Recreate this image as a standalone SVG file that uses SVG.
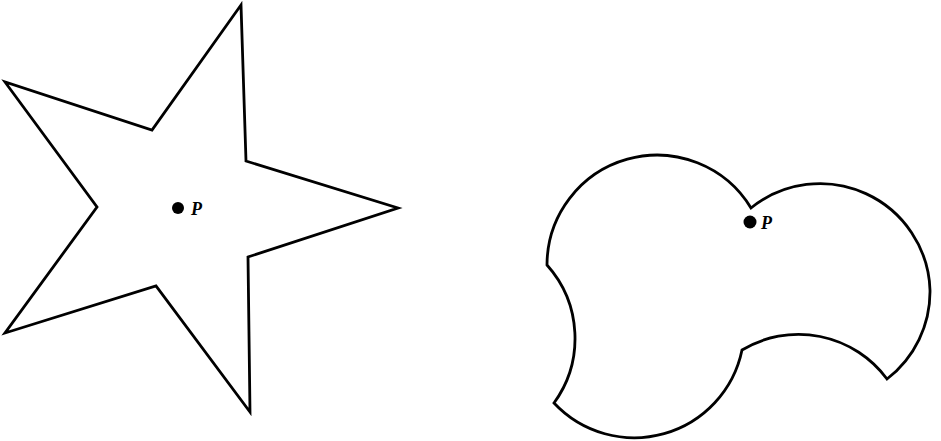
<svg xmlns="http://www.w3.org/2000/svg" width="941" height="441" viewBox="0 0 941 441">
<style>
.shape{fill:none;stroke:#000;stroke-width:2.8;stroke-linejoin:miter;stroke-miterlimit:20}
.dot{fill:#000}
.lbl{font-family:"Liberation Serif","DejaVu Serif",serif;font-weight:bold;font-style:italic;font-size:18px;fill:#000}
</style>
<rect width="941" height="441" fill="#fff"/>
<g id="star">
<polygon class="shape" points="241,5 152,130 5,82 97,207 5,333 156,286 250,412 248,257 398,208 246,161"/>
<circle class="dot" cx="178" cy="208" r="6"/>
<text class="lbl" x="191" y="215">P</text>
</g>
<g id="blob">
<path class="shape" d="M 751 208 A 110 110 0 0 0 547 265 A 110 110 0 0 1 554 403 A 110 110 0 0 0 742 350 A 110 110 0 0 1 887 379 A 110 110 0 0 0 930 290 A 110 110 0 0 0 751 208 Z"/>
<circle class="dot" cx="750" cy="222" r="6.5"/>
<text class="lbl" x="761" y="229">P</text>
</g>
<g id="connectors"/>
</svg>
